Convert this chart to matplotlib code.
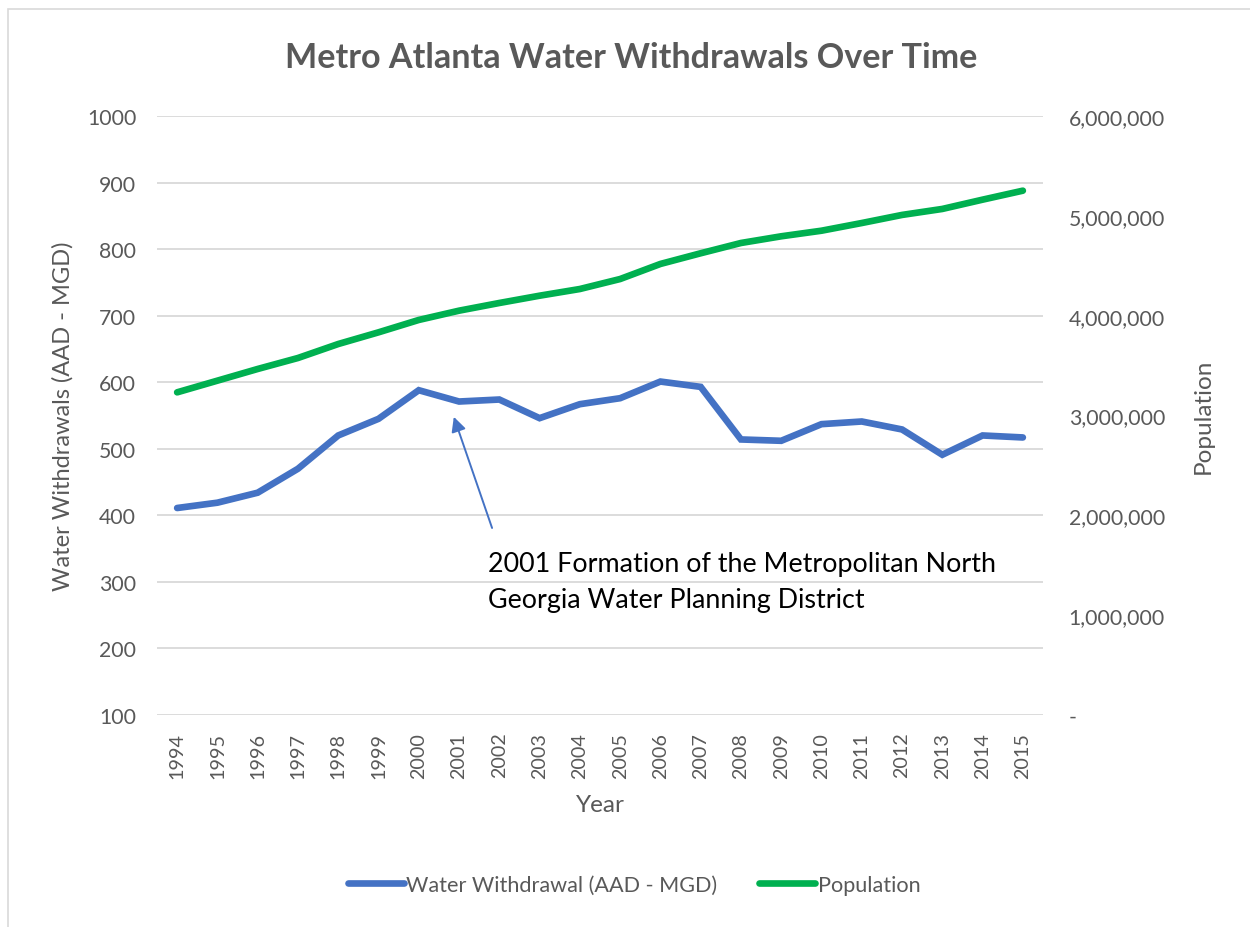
import matplotlib
matplotlib.use("Agg")
import matplotlib.pyplot as plt
from matplotlib.ticker import FuncFormatter, MultipleLocator
from matplotlib.patches import Rectangle

# Werte
years = list(range(1994, 2016))
withdrawal = [411, 419, 434, 470, 520, 545, 588, 571, 574, 546, 567, 576,
              601, 593, 514, 512, 537, 541, 529, 491, 520, 517]
population = [3232000, 3349000, 3466000, 3576000, 3716000, 3833000, 3957000,
              4050000, 4127000, 4200000, 4267000, 4367000, 4518000, 4625000,
              4728000, 4795000, 4851000, 4928000, 5009000, 5069000, 5162000,
              5252000]

grau = "#595959"
blau = "#4472C4"
gruen = "#00B050"

plt.rcParams['font.family'] = ['Lato', 'DejaVu Sans']

fig = plt.figure(figsize=(12.5, 9.28), dpi=100)
fig.patches.append(Rectangle((8 / 1250, -0.01), 1.1, 1 - 10 / 928 + 0.01,
                             transform=fig.transFigure, fill=False,
                             edgecolor="#D9D9D9", lw=1.2))

ax = fig.add_axes([157 / 1250, 1 - 716 / 928, (1043 - 157) / 1250, (716 - 117) / 928])
ax2 = ax.twinx()

x = list(range(len(years)))
l1, = ax.plot(x, withdrawal, color=blau, lw=4.8, solid_capstyle="round",
              solid_joinstyle="miter", label="Water Withdrawal (AAD - MGD)", zorder=3)
l2, = ax2.plot(x, population, color=gruen, lw=4.8, solid_capstyle="round",
               label="Population", zorder=3)

ax.set_xlim(-0.5, len(years) - 0.5)
ax.set_ylim(100, 1000)
ax2.set_ylim(0, 6000000)
ax.yaxis.set_major_locator(MultipleLocator(100))
ax2.yaxis.set_major_locator(MultipleLocator(1000000))
ax2.yaxis.set_major_formatter(FuncFormatter(lambda v, p: "-" if v == 0 else f"{v:,.0f}"))

ax.set_xticks(x)
ax.set_xticklabels([str(j) for j in years], rotation=90, color=grau)
ax.grid(axis="y", color="#D9D9D9", lw=1.3)
ax.set_axisbelow(True)
for a in (ax, ax2):
    for s in a.spines.values():
        s.set_visible(False)
    a.tick_params(length=0, labelcolor=grau)
ax.tick_params(axis="y", pad=15, labelsize=15.3)
ax.tick_params(axis="x", pad=12, labelsize=14.2)
ax2.tick_params(axis="y", pad=18.5, labelsize=15.3)

# Achsentitel
fig.text(63 / 1250, 1 - 416 / 928, "Water Withdrawals (AAD - MGD)", rotation=90,
         ha="center", va="center", fontsize=17, color=grau)
fig.text(1203 / 1250, 1 - 416 / 928, "Population", rotation=90,
         ha="center", va="center", fontsize=17.5, color=grau)
fig.text(600 / 1250, 1 - 806 / 928, "Year", ha="center", va="center",
         fontsize=17.5, color=grau)

fig.text(631 / 1250, 1 - 58 / 928, "Metro Atlanta Water Withdrawals Over Time",
         ha="center", va="center", fontsize=24.6, fontweight="bold", color=grau)

# Pfeil und Beschriftung
ax.annotate("", xy=(6.87, 548), xytext=(7.82, 381),
            arrowprops=dict(arrowstyle="-|>", color=blau, lw=1.4,
                            mutation_scale=22, shrinkA=0, shrinkB=0), zorder=4)
ax.text(7.72, 346, "2001 Formation of the Metropolitan North\nGeorgia Water Planning District",
        ha="left", va="top", fontsize=19.4, color="black", linespacing=1.55, zorder=4)

fig.legend([l1, l2], ["Water Withdrawal (AAD - MGD)", "Population"],
           loc="center", bbox_to_anchor=(634 / 1250, 1 - 886 / 928), ncol=2,
           frameon=False, fontsize=15.6, labelcolor=grau, handlelength=2.58,
           handletextpad=0.12, columnspacing=1.94)

fig.savefig("out.png", dpi=100)
